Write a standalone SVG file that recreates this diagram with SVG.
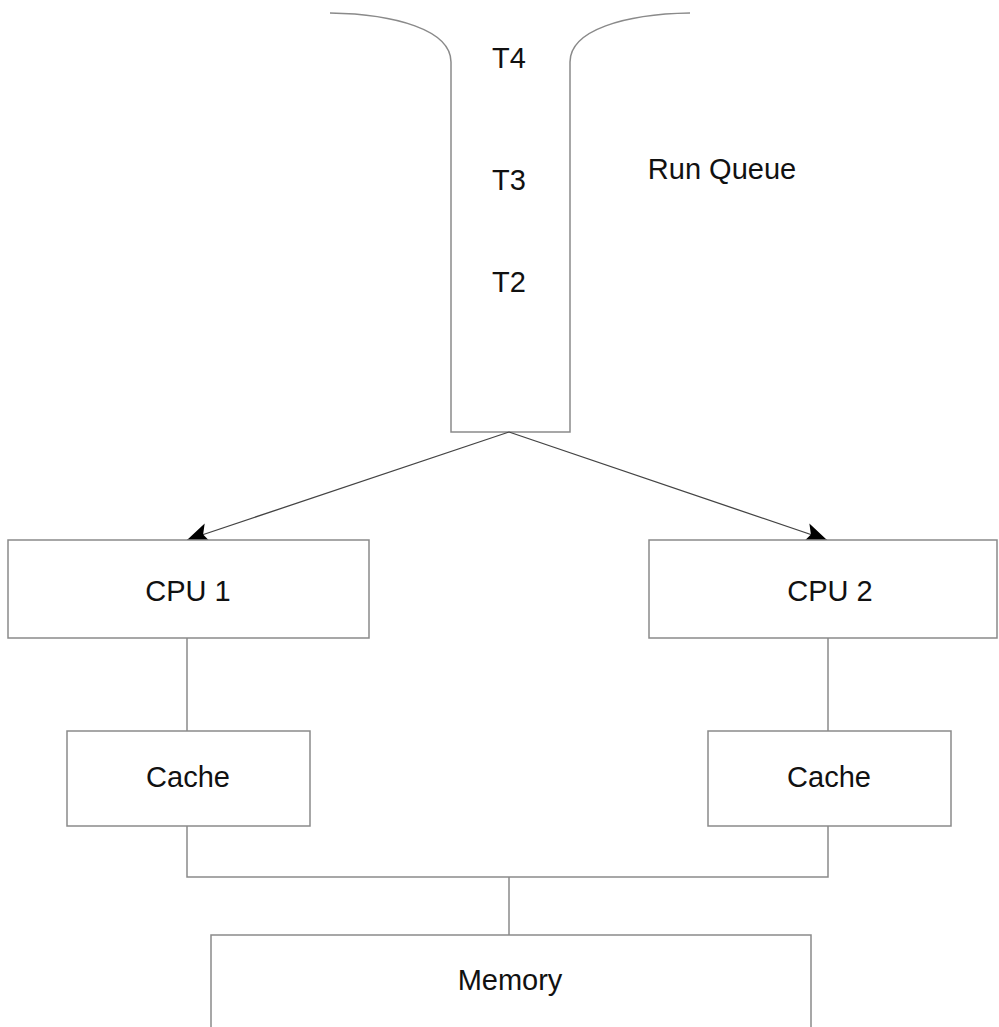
<svg xmlns="http://www.w3.org/2000/svg" width="999" height="1027" viewBox="0 0 999 1027">
<style>
.box{fill:#ffffff;stroke:#8a8a8a;stroke-width:1.5}
.ln{fill:none;stroke:#8a8a8a;stroke-width:1.5}
.arr{fill:none;stroke:#444;stroke-width:1.3}
.t{font-family:"Liberation Sans",Arial,Helvetica,sans-serif;font-size:29px;fill:#111;text-anchor:middle}
</style>
<defs>
<marker id="ah" markerUnits="userSpaceOnUse" markerWidth="26" markerHeight="22" refX="22" refY="10" orient="auto">
<path d="M0,0 L22,10 L0,20 L5,10 Z" fill="#000"/>
</marker>
</defs>
<rect width="999" height="1027" fill="#fff"/>
<g id="runqueue">
<path class="ln" d="M330,13 C395,14 451,30 451,62 L451,432 L570,432 L570,62 C570,30 625,14 690,13"/>
<text class="t" x="509" y="68">T4</text>
<text class="t" x="509" y="190">T3</text>
<text class="t" x="509" y="292">T2</text>
</g>
<g id="runqueue-label">
<text class="t" x="722" y="179">Run Queue</text>
</g>
<g id="connectors">
<line class="arr" x1="509" y1="432" x2="187" y2="540" marker-end="url(#ah)"/>
<line class="arr" x1="509" y1="432" x2="827" y2="540" marker-end="url(#ah)"/>
<line class="ln" x1="187" y1="638" x2="187" y2="731"/>
<line class="ln" x1="828" y1="638" x2="828" y2="731"/>
<polyline class="ln" points="187,826 187,877 828,877 828,826"/>
<line class="ln" x1="509" y1="877" x2="509" y2="935"/>
</g>
<g id="cpu1">
<rect class="box" x="8" y="540" width="361" height="98"/>
<text class="t" x="188" y="601">CPU 1</text>
</g>
<g id="cpu2">
<rect class="box" x="649" y="540" width="348" height="98"/>
<text class="t" x="830" y="601">CPU 2</text>
</g>
<g id="cache1">
<rect class="box" x="67" y="731" width="243" height="95"/>
<text class="t" x="188" y="787">Cache</text>
</g>
<g id="cache2">
<rect class="box" x="708" y="731" width="243" height="95"/>
<text class="t" x="829" y="787">Cache</text>
</g>
<g id="memory">
<rect class="box" x="211" y="935" width="600" height="110"/>
<text class="t" x="510" y="990">Memory</text>
</g>
</svg>
